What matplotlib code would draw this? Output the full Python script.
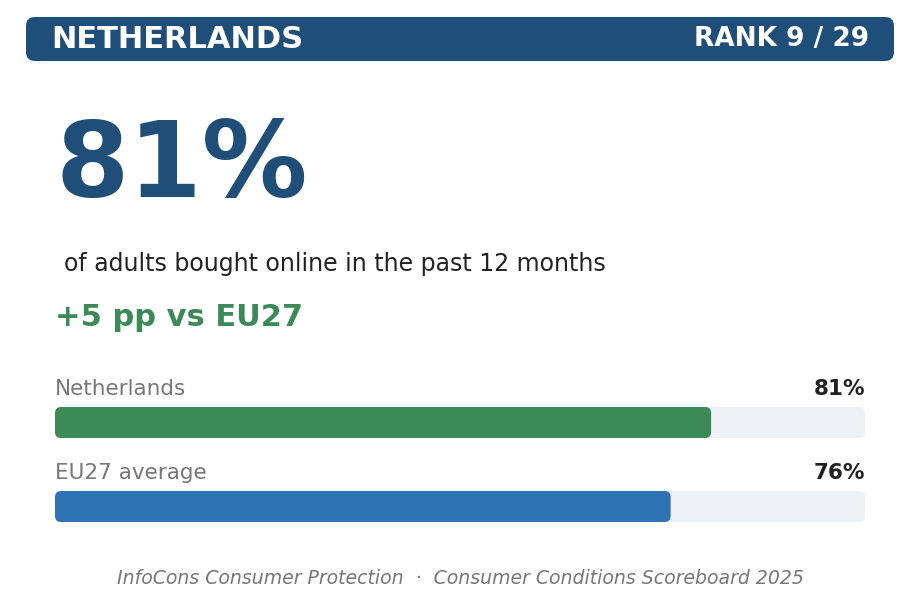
import matplotlib.pyplot as plt
from matplotlib.patches import FancyBboxPatch

# data
country = 'NETHERLANDS'
rank_text = 'RANK 9 / 29'
headline_value = 81
subtitle = 'of adults bought online in the past 12 months'
diff_text = '+5 pp vs EU27'
bar_labels = ['Netherlands', 'EU27 average']
bar_values = [81, 76]
bar_colors = ['#3b8a58', '#2e74b5']
footer = 'InfoCons Consumer Protection  \u00b7  Consumer Conditions Scoreboard 2025'

W, H = 919, 600
fig = plt.figure(figsize=(W / 100, H / 100), dpi=100)
ax = fig.add_axes([0, 0, 1, 1])
ax.set_xlim(0, W)
ax.set_ylim(H, 0)
ax.axis('off')

# header band
ax.add_patch(FancyBboxPatch((26, 17), 868, 44, boxstyle='round,pad=0,rounding_size=9',
                            fc='#1f4e79', ec='none'))
ax.text(51, 40, country, color='white', fontsize=22, fontweight='bold', va='center', ha='left')
ax.text(869, 39, rank_text, color='white', fontsize=19, fontweight='bold', va='center', ha='right')

# big number
ax.text(55, 168, f'{headline_value}%', color='#1f4e79', fontsize=76, fontweight='bold',
        va='center', ha='left')
ax.text(64, 264, subtitle, color='#222222', fontsize=17, va='center', ha='left')
ax.text(55, 318, diff_text, color='#3b8a58', fontsize=22, fontweight='bold', va='center', ha='left')

# bars
x0, x1 = 55, 865
track_w = x1 - x0
label_y = [389, 473]
bar_y = [407, 491]
bar_h = 31
for lab, val, col, ly, by in zip(bar_labels, bar_values, bar_colors, label_y, bar_y):
    ax.text(x0, ly, lab, color='#777777', fontsize=15.5, va='center', ha='left')
    ax.text(x1, ly, f'{val}%', color='#222222', fontsize=15.5, fontweight='bold',
            va='center', ha='right')
    ax.add_patch(FancyBboxPatch((x0, by), track_w, bar_h, boxstyle='round,pad=0,rounding_size=6',
                                fc='#edf1f6', ec='none'))
    ax.add_patch(FancyBboxPatch((x0, by), track_w * val / 100, bar_h,
                                boxstyle='round,pad=0,rounding_size=6', fc=col, ec='none'))

ax.text(W / 2 + 1, 578, footer, color='#777777', fontsize=13.6, fontstyle='italic',
        va='center', ha='center')

fig.savefig('out.png', dpi=100, facecolor='white')
